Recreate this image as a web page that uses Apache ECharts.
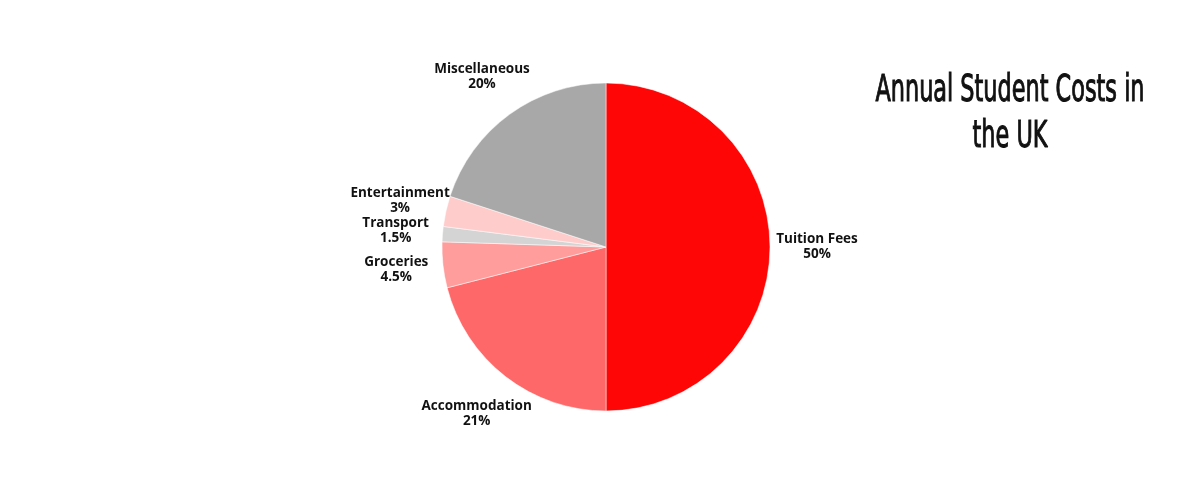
<!DOCTYPE html>
<html><head><meta charset="utf-8">
<script src="https://cdn.jsdelivr.net/npm/echarts@6/dist/echarts.min.js"></script>
<style>html,body{margin:0;padding:0;background:#fff}#c{width:1200px;height:500px}</style>
</head><body><div id="c"></div>
<script>
const categories = ['Tuition Fees','Accommodation','Groceries','Transport','Entertainment','Miscellaneous'];
const values = [50, 21, 4.5, 1.5, 3, 20];
const colors = ['#ff0606','#ff6868','#ff9c9c','#d4d4d4','#ffcccc','#a8a8a8'];
const titleText = 'Annual Student Costs in\nthe UK';

const chart = echarts.init(document.getElementById('c'));
chart.setOption({
  backgroundColor: '#ffffff',
  animation: false,
  graphic: [{
    type: 'text', x: 1010, y: 114, scaleX: 0.605,
    style: {
      text: titleText, fill: '#111', stroke: '#111', lineWidth: 1.1,
      font: 'normal 37px "DejaVu Sans", sans-serif',
      lineHeight: 46, align: 'center', verticalAlign: 'middle'
    }
  }],
  series: [{
    type: 'pie',
    center: [606, 247],
    radius: 164,
    startAngle: 90,
    clockwise: true,
    avoidLabelOverlap: false,
    itemStyle: {borderColor: '#ffffff', borderWidth: 0.5},
    label: {
      show: true, position: 'outside',
      formatter: p => p.name + '\n' + p.value + '%',
      fontFamily: '"Open Sans", Lato, sans-serif', fontWeight: 'bold', fontSize: 13.5, lineHeight: 15,
      color: '#111', distanceToLabelLine: 0
    },
    labelLine: {show: false, length: 47, length2: 0},
    labelLayout: {align: 'center', verticalAlign: 'middle', hideOverlap: false},
    data: categories.map((c, i) => ({name: c, value: values[i], itemStyle: {color: colors[i]}}))
  }]
});
</script></body></html>
